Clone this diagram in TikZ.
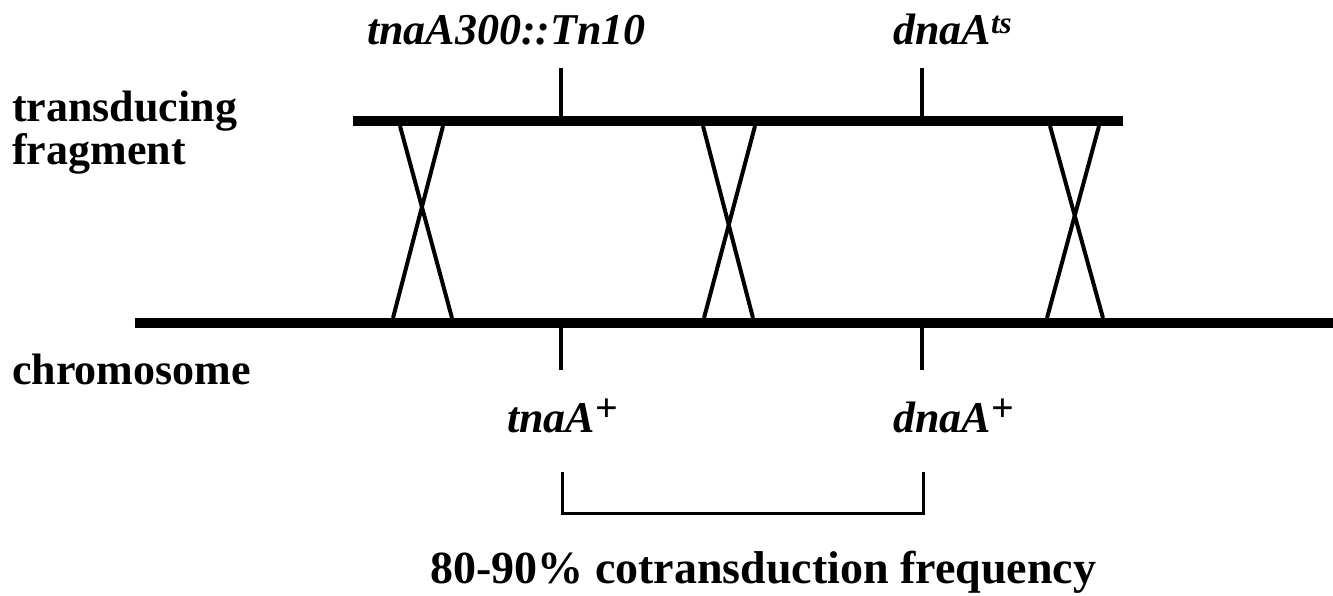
\documentclass[tikz,border=0pt]{standalone}
\usepackage{fontspec}
\setmainfont{Liberation Serif}
\newcommand{\supts}{\raisebox{11pt}{\fontsize{31}{31}\selectfont ts}}
\newcommand{\supplus}{\raisebox{11pt}{\fontsize{40}{40}\selectfont\upshape +}}
\begin{document}
\begin{tikzpicture}[x=1pt,y=-1pt,
  strand/.style={line width=10pt},
  tick/.style={line width=4pt},
  xover/.style={line width=4pt},
  brk/.style={line width=3pt},
  lbl/.style={anchor=base west,inner sep=0pt,font=\fontsize{44}{44}\selectfont\bfseries},
  gene/.style={anchor=base west,inner sep=0pt,font=\fontsize{44}{44}\selectfont\bfseries\itshape}]
\useasboundingbox (0,0) rectangle (1333,596);
% strands
\coordinate (fragL) at (353,121);
\coordinate (fragR) at (1123,121);
\coordinate (chrL) at (135,323);
\coordinate (chrR) at (1333,323);
\draw[strand] (fragL) -- (fragR);
\draw[strand] (chrL) -- (chrR);
% marker ticks
\coordinate (t1a) at (561,68); \coordinate (t1b) at (561,116);
\coordinate (t2a) at (922,68); \coordinate (t2b) at (922,116);
\coordinate (b1a) at (561,328); \coordinate (b1b) at (561,370);
\coordinate (b2a) at (922,328); \coordinate (b2b) at (922,370);
\draw[tick] (t1a) -- (t1b);
\draw[tick] (t2a) -- (t2b);
\draw[tick] (b1a) -- (b1b);
\draw[tick] (b2a) -- (b2b);
% crossovers
\coordinate (c1a) at (400,126); \coordinate (c1b) at (452,318);
\coordinate (c1c) at (443,126); \coordinate (c1d) at (393,318);
\coordinate (c2a) at (703,126); \coordinate (c2b) at (753,318);
\coordinate (c2c) at (755,126); \coordinate (c2d) at (704,318);
\coordinate (c3a) at (1050,126); \coordinate (c3b) at (1103,318);
\coordinate (c3c) at (1099,126); \coordinate (c3d) at (1047,318);
\draw[xover] (c1a) -- (c1b); \draw[xover] (c1c) -- (c1d);
\draw[xover] (c2a) -- (c2b); \draw[xover] (c2c) -- (c2d);
\draw[xover] (c3a) -- (c3b); \draw[xover] (c3c) -- (c3d);
% bracket
\coordinate (k1) at (562,472); \coordinate (k2) at (562,513);
\coordinate (k3) at (923,513); \coordinate (k4) at (923,472);
\draw[brk] (k1) -- (k2) -- (k3) -- (k4);
% labels
\node[lbl] (lfrag1) at (12,122) {transducing};
\node[lbl] (lfrag2) at (12,165) {fragment};
\node[lbl] (lchr) at (12,384) {chromosome};
\node[gene] (gtn) at (367,45) {tnaA300::Tn10};
\node[gene] (gdts) at (893,45) {dnaA\supts};
\node[gene] (gtp) at (507,432) {tnaA\supplus};
\node[gene] (gdp) at (893,432) {dnaA\supplus};
\node[lbl,font=\fontsize{46}{46}\selectfont\bfseries] (freq) at (430,583) {80-90\% cotransduction frequency};
\end{tikzpicture}
\end{document}
